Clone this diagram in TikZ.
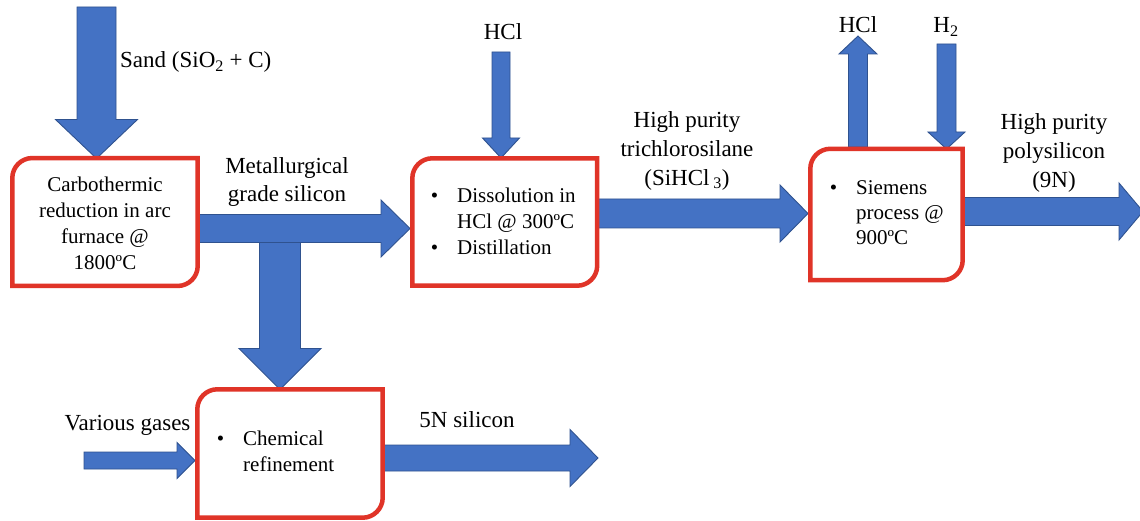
\documentclass[tikz,border=0pt]{standalone}
\usepackage{fontspec}
\setmainfont{Liberation Serif}
\usetikzlibrary{calc}
\definecolor{arrfill}{HTML}{4472C4}
\definecolor{arrline}{HTML}{2F528F}
\definecolor{boxred}{RGB}{224,52,40}
\tikzset{
  barrow/.style={fill=arrfill, draw=arrline, line width=0.9pt, line join=miter},
  boxline/.style={draw=boxred, fill=white, line width=4.5pt, line join=miter},
  boxn/.style={inner sep=0pt, draw=none},
  boxtxt/.style={inner sep=0pt, font=\fontsize{21}{26}\selectfont},
  lbl/.style={inner sep=0pt, font=\fontsize{23}{29}\selectfont, align=center},
}
% #1 start, #2 tip, #3 shaft half width, #4 head half width, #5 head length
\newcommand\blockarrow[5]{%
  \coordinate (hb) at ($(#2)!#5!(#1)$);
  \draw[barrow] ($(#1)!#3!90:(#2)$) -- ($(hb)!#3!-90:(#1)$) -- ($(hb)!#4!-90:(#1)$)
    -- (#2) -- ($(hb)!#4!90:(#1)$) -- ($(hb)!#3!90:(#1)$) -- ($(#1)!#3!-90:(#2)$) -- cycle;}
% #1 node, #2 corner radius
\newcommand\procbox[2]{%
  \draw[boxline] (#1.north) -- (#1.north east) -- ([yshift=#2]#1.south east)
    .. controls ([yshift=0.45*#2]#1.south east) and ([xshift=-0.45*#2]#1.south east) .. ([xshift=-#2]#1.south east)
    -- (#1.south west) -- ([yshift=-#2]#1.north west)
    .. controls ([yshift=-0.45*#2]#1.north west) and ([xshift=0.45*#2]#1.north west) .. ([xshift=#2]#1.north west)
    -- cycle;}
\newcommand\bul{\llap{•\hspace{19pt}}}
\begin{document}
\begin{tikzpicture}[x=1pt,y=-1pt]
\fill[white] (0,0) rectangle (1140,521);
\useasboundingbox (0,0) rectangle (1140,521);

% process boxes (positions)
\node[boxn, minimum width=185pt, minimum height=127.5pt] (b1) at (105,222) {};
\node[boxn, minimum width=184.5pt, minimum height=127pt] (b2) at (504.75,222) {};
\node[boxn, minimum width=152pt, minimum height=131pt] (b3) at (886.5,214.5) {};
\node[boxn, minimum width=185pt, minimum height=128pt] (b4) at (290,453.5) {};

% arrow end points
\coordinate (sandA) at (96.5,7);
\coordinate (sandB) at (96.5,158.5);
\coordinate (mgA) at (b1.east |- 0,228.5);
\coordinate (mgB) at (410,228.5);
\coordinate (dnA) at (280,236);
\coordinate (dnB) at (280,389.5);
\coordinate (hclA) at (501,52);
\coordinate (hclB) at (501,158);
\coordinate (tcsA) at (b2.east |- 0,213.5);
\coordinate (tcsB) at (808,213.5);
\coordinate (houtA) at (858,147);
\coordinate (houtB) at (858,36);
\coordinate (htwoA) at (946.5,44);
\coordinate (htwoB) at (946.5,149);
\coordinate (polyA) at (b3.east |- 0,211.5);
\coordinate (polyB) at (1143,211.5);
\coordinate (gasA) at (84,460.5);
\coordinate (gasB) at (195,460.5);
\coordinate (fiveA) at (b4.east |- 0,458);
\coordinate (fiveB) at (598,458);

% block arrows
\blockarrow{sandA}{sandB}{19.5pt}{41pt}{39pt}
\blockarrow{dnA}{dnB}{20.5pt}{41pt}{41pt}
\blockarrow{mgA}{mgB}{14pt}{28.5pt}{29pt}
\blockarrow{hclA}{hclB}{9pt}{18.5pt}{20pt}
\blockarrow{tcsA}{tcsB}{14.5pt}{28.5pt}{28pt}
\blockarrow{houtA}{houtB}{9.5pt}{19pt}{18pt}
\blockarrow{htwoA}{htwoB}{9.5pt}{18.5pt}{17pt}
\blockarrow{polyA}{polyB}{14pt}{28.5pt}{24pt}
\blockarrow{gasA}{gasB}{8.5pt}{18pt}{18pt}
\blockarrow{fiveA}{fiveB}{13pt}{28.5pt}{28pt}

% box outlines
\procbox{b1}{20pt}
\procbox{b2}{20pt}
\procbox{b3}{20pt}
\procbox{b4}{20pt}

% box texts
\node[boxtxt, align=center] (t1) at (105,223) {Carbothermic\\reduction in arc\\furnace @\\1800ºC};
\node[boxtxt, align=left, anchor=west] (t2) at (457,221) {\bul Dissolution in\\HCl @ 300ºC\\\bul Distillation};
\node[boxtxt, align=left, anchor=west, font=\fontsize{21}{25}\selectfont] (t3) at (856,213) {\bul Siemens\\process @\\900ºC};
\node[boxtxt, align=left, anchor=west] (t4) at (243,451.5) {\bul Chemical\\refinement};

% labels
\node[lbl, anchor=west] (l1) at (120,62) {Sand (SiO\textsubscript{2} + C)};
\node[lbl, font=\fontsize{23}{28}\selectfont] (l2) at (287,182) {Metallurgical\\grade silicon};
\node[lbl] (l3) at (503,32) {HCl};
\node[lbl] (l4) at (687,150.5) {High purity\\trichlorosilane\\(SiHCl\,\textsubscript{3})};
\node[lbl] (l5) at (858,25) {HCl};
\node[lbl] (l6) at (946,27) {H\textsubscript{2}};
\node[lbl] (l7) at (1054,152.5) {High purity\\polysilicon\\(9N)};
\node[lbl] (l8) at (127.5,425) {Various gases};
\node[lbl] (l9) at (467,420) {5N silicon};
\end{tikzpicture}
\end{document}
